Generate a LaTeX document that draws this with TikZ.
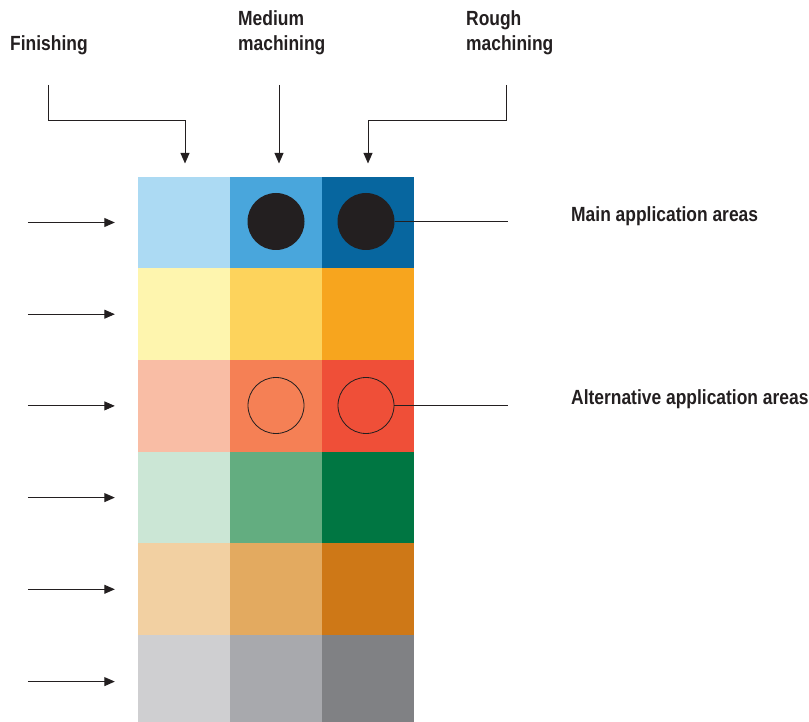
\documentclass[tikz,border=0pt]{standalone}
\usepackage{fontspec}
\setmainfont{Liberation Sans}[FakeStretch=0.85]
\usetikzlibrary{arrows.meta,calc}
\definecolor{b1}{HTML}{ACDAF3}\definecolor{b2}{HTML}{49A6DC}\definecolor{b3}{HTML}{07669F}
\definecolor{y1}{HTML}{FEF5AE}\definecolor{y2}{HTML}{FDD35C}\definecolor{y3}{HTML}{F7A51E}
\definecolor{r1}{HTML}{F9BDA5}\definecolor{r2}{HTML}{F58055}\definecolor{r3}{HTML}{EF4F38}
\definecolor{g1}{HTML}{CBE6D5}\definecolor{g2}{HTML}{63AD80}\definecolor{g3}{HTML}{007642}
\definecolor{o1}{HTML}{F2D0A2}\definecolor{o2}{HTML}{E3AA60}\definecolor{o3}{HTML}{CE7817}
\definecolor{k1}{HTML}{CFCFD1}\definecolor{k2}{HTML}{A8A9AD}\definecolor{k3}{HTML}{808184}
\definecolor{ink}{HTML}{231F20}
\begin{document}
\begin{tikzpicture}[x=1pt,y=-1pt,
  cell/.style={draw=none,inner sep=0pt,minimum width=92pt,minimum height=91.7pt},
  lastcell/.style={cell,minimum height=87pt},
  lbl/.style={font=\bfseries\fontsize{20.5}{24}\selectfont,text=ink,inner sep=0pt},
  arr/.style={draw=ink,line width=0.9pt,-{Triangle[length=10.5pt,width=9pt]}},
  ln/.style={draw=ink,line width=0.9pt},
  dot/.style={circle,fill=ink,inner sep=0pt,minimum size=57pt},
  ring/.style={circle,draw=ink,line width=0.8pt,inner sep=0pt,minimum size=56pt}]
\useasboundingbox (0,0) rectangle (809,722);
% grid
\node[cell,fill=b1] (c11) at (184,222.5) {};
\node[cell,fill=b2] (c12) at (276,222.5) {};
\node[cell,fill=b3] (c13) at (368,222.5) {};
\node[cell,fill=y1] (c21) at (184,314.2) {};
\node[cell,fill=y2] (c22) at (276,314.2) {};
\node[cell,fill=y3] (c23) at (368,314.2) {};
\node[cell,fill=r1] (c31) at (184,405.9) {};
\node[cell,fill=r2] (c32) at (276,405.9) {};
\node[cell,fill=r3] (c33) at (368,405.9) {};
\node[cell,fill=g1] (c41) at (184,497.6) {};
\node[cell,fill=g2] (c42) at (276,497.6) {};
\node[cell,fill=g3] (c43) at (368,497.6) {};
\node[cell,fill=o1] (c51) at (184,589.3) {};
\node[cell,fill=o2] (c52) at (276,589.3) {};
\node[cell,fill=o3] (c53) at (368,589.3) {};
\node[lastcell,fill=k1] (c61) at (184,678.6) {};
\node[lastcell,fill=k2] (c62) at (276,678.6) {};
\node[lastcell,fill=k3] (c63) at (368,678.6) {};
% circles
\node[dot] (m1) at (276,221.5) {};
\node[dot] (m2) at (366,221.5) {};
\node[ring] (a1) at (276,405.5) {};
\node[ring] (a2) at (366,405.5) {};
% labels
\node[lbl,anchor=base west] (fin) at (10,51) {Finishing};
\node[lbl,anchor=base west] (med) at (238,26) {Medium};
\node[lbl,anchor=base west] (med2) at (238,51) {machining};
\node[lbl,anchor=base west] (rou) at (466,26) {Rough};
\node[lbl,anchor=base west] (rou2) at (466,51) {machining};
\node[lbl,anchor=base west] (main) at (571,222) {Main application areas};
\node[lbl,anchor=base west] (alt) at (571,404) {Alternative application areas};
% top connectors
\coordinate (f0) at (48,85);
\coordinate (m0) at (279,85);
\coordinate (r0) at (506,85);
\draw[arr] (f0) -- (48,120) -| ([xshift=1pt,yshift=13pt]c11.north);
\draw[arr] (m0) -- ([xshift=3pt,yshift=13pt]c12.north);
\draw[arr] (r0) -- (506,120) -| ([xshift=0pt,yshift=13pt]c13.north);
% left arrows
\foreach \c/\dy in {c11/0,c21/0,c31/0,c41/0,c51/0,c61/3}{
  \coordinate (s\c) at ([xshift=-110pt,yshift=-\dy pt]\c.west);
  \draw[arr] (s\c) -- ([xshift=-23pt,yshift=-\dy pt]\c.west);
}
% right lines
\coordinate (me) at (508,221.5);
\coordinate (ae) at (508,405.5);
\draw[ln] (m2.east) -- (me);
\draw[ln] (a2.east) -- (ae);
\end{tikzpicture}
\end{document}
